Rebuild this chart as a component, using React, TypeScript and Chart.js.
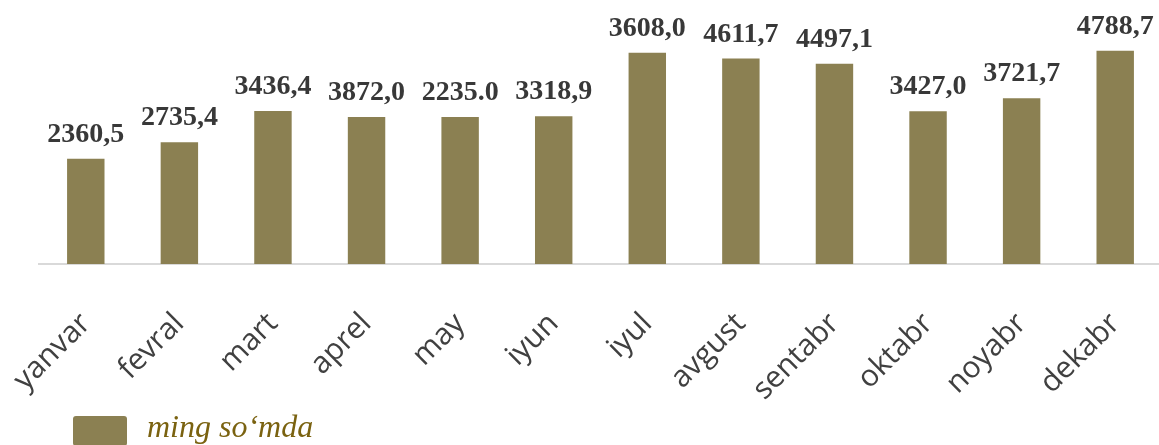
import React, { useEffect, useRef } from 'react';
import { Chart, registerables } from 'chart.js';

Chart.register(...registerables);

const months = ['yanvar', 'fevral', 'mart', 'aprel', 'may', 'iyun', 'iyul', 'avgust', 'sentabr', 'oktabr', 'noyabr', 'dekabr'];
const barValues = [2360.5, 2735.4, 3436.4, 3300, 3300, 3318.9, 4740, 4611.7, 4497.1, 3427.0, 3721.7, 4788.7];
const valueLabels = ['2360,5', '2735,4', '3436,4', '3872,0', '2235.0', '3318,9', '3608,0', '4611,7', '4497,1', '3427,0', '3721,7', '4788,7'];
const seriesName = 'ming so\u2018mda';

const BAR = '#8B8052';

export default function App() {
  const ref = useRef<HTMLCanvasElement>(null);
  useEffect(() => {
    const canvas = ref.current!;
    const sw = document.createElement('canvas');
    sw.width = 54;
    sw.height = 34;
    const sctx = sw.getContext('2d')!;
    sctx.fillStyle = BAR;
    sctx.beginPath();
    (sctx as any).roundRect(0, 4, 54, 30, 3);
    sctx.fill();

    const valueLabelPlugin = {
      id: 'valueLabels',
      afterLayout(chart: any) {
        // let the rotated month labels use the space beside the legend
        const s = chart.scales.x;
        s.bottom = s.top + 170;
        s.height = 170;
      },
      afterDatasetsDraw(chart: any) {
        const ctx = chart.ctx;
        const meta = chart.getDatasetMeta(0);
        ctx.save();
        ctx.font = 'bold 28px "Liberation Serif"';
        ctx.fillStyle = '#383838';
        ctx.textAlign = 'center';
        ctx.textBaseline = 'alphabetic';
        meta.data.forEach((el: any, i: number) => {
          ctx.fillText(valueLabels[i], el.x, el.y - 17);
        });
        ctx.restore();
      },
    };

    const chart = new Chart(canvas, {
      type: 'bar',
      data: {
        labels: months,
        datasets: [
          {
            label: seriesName,
            data: barValues,
            backgroundColor: BAR,
            categoryPercentage: 1,
            barPercentage: 0.4,
          },
        ],
      },
      options: {
        animation: false,
        responsive: false,
        maintainAspectRatio: false,
        layout: { padding: { left: 39, right: 1, top: 19, bottom: 0 } },
        scales: {
          x: {
            z: 1,
            grid: { display: false },
            border: { display: true, color: '#d9d9d9', width: 2 },
            ticks: {
              maxRotation: 45,
              minRotation: 45,
              autoSkip: false,
              padding: 34,
              color: '#404040',
              font: { family: '"Open Sans"', size: 30 },
            },
            afterFit: (s: any) => {
              s.height = 119;
              s.paddingLeft = 0;
              s.paddingRight = 0;
            },
          },
          y: { display: false, min: 0, max: 5500 },
        },
        plugins: {
          legend: {
            position: 'bottom',
            align: 'start',
            fullSize: false,
            labels: {
              usePointStyle: true,
              pointStyle: sw as any,
              pointStyleWidth: 62,
              padding: 30,
              color: '#7A6210',
              font: { family: '"Liberation Serif"', size: 32, style: 'italic' },
            },
          },
          tooltip: { enabled: false },
        },
      } as any,
      plugins: [valueLabelPlugin],
    });
    return () => chart.destroy();
  }, []);
  return (
    <div style={{ position: 'fixed', left: 0, top: 0, width: 1159, height: 445, overflow: 'hidden', background: '#fff' }}>
      <canvas ref={ref} width={1163} height={455} style={{ display: 'block' }} />
    </div>
  );
}
